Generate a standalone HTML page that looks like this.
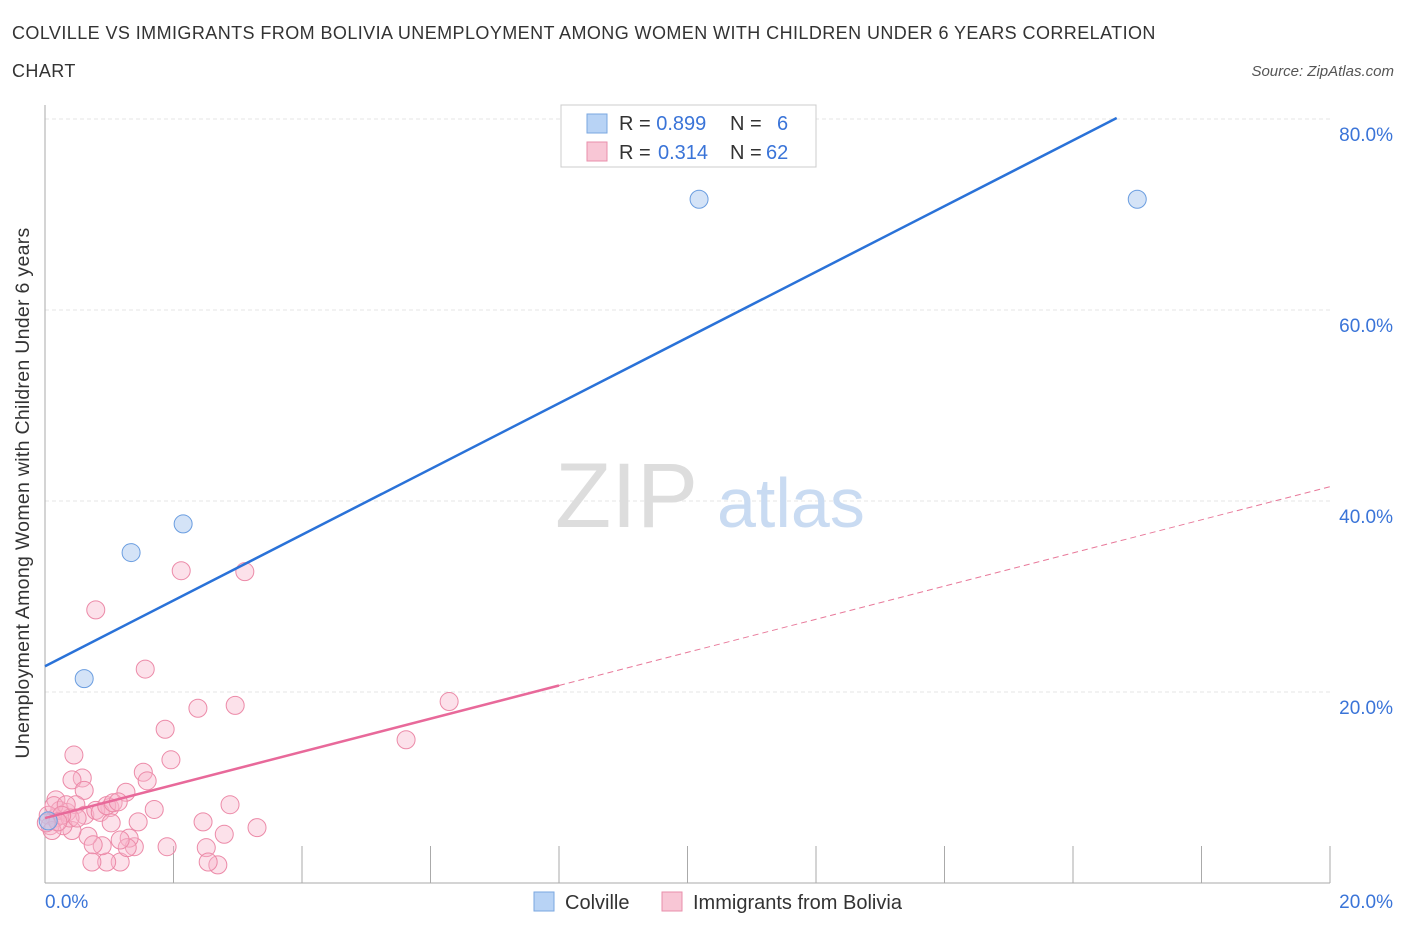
<!DOCTYPE html>
<html><head><meta charset="utf-8"><style>
body{margin:0;background:#fff;font-family:"Liberation Sans",sans-serif;}
svg text{font-family:"Liberation Sans",sans-serif;}
</style></head><body>
<svg id="c" width="1406" height="930">
<text x="12" y="39" font-size="18" fill="#333" letter-spacing="0.42">COLVILLE VS IMMIGRANTS FROM BOLIVIA UNEMPLOYMENT AMONG WOMEN WITH CHILDREN UNDER 6 YEARS CORRELATION</text>
<text x="12" y="77" font-size="18" fill="#333" letter-spacing="0.42">CHART</text>
<text x="1394" y="76" font-size="15" fill="#555" font-style="italic" text-anchor="end">Source: ZipAtlas.com</text>
<g id="grid"></g>
<text x="555" y="527" font-size="92" fill="#ddd" font-family="Liberation Serif">ZIP</text>
<text x="717" y="527" font-size="70" fill="#c9dbf2">atlas</text>
<g id="marks"></g>
<g>
<rect x="561" y="105" width="255" height="62" fill="#fff" stroke="#ccc"/>
<rect x="587" y="114" width="20" height="19" fill="#b8d3f5" stroke="#7aa7e0"/>
<rect x="587" y="142" width="20" height="19" fill="#f8c6d5" stroke="#e98fab"/>
<text x="619" y="130" font-size="20" fill="#333">R = <tspan fill="#3a74d8">0.899</tspan><tspan x="730">N = </tspan><tspan x="777" fill="#3a74d8">6</tspan></text>
<text x="619" y="159" font-size="20" fill="#333">R = <tspan x="658" fill="#3a74d8">0.314</tspan><tspan x="730">N = </tspan><tspan x="766" fill="#3a74d8">62</tspan></text>
</g>
<g>
<rect x="534" y="892" width="20" height="19" fill="#b8d3f5" stroke="#7aa7e0"/>
<text x="565" y="909" font-size="20" fill="#333">Colville</text>
<rect x="662" y="892" width="20" height="19" fill="#f8c6d5" stroke="#e98fab"/>
<text x="693" y="909" font-size="20" fill="#333">Immigrants from Bolivia</text>
</g>
<text x="29" y="493" font-size="19.5" fill="#333" letter-spacing="0.3" text-anchor="middle" transform="rotate(-90 29 493)">Unemployment Among Women with Children Under 6 years</text>
</svg>
<script>
const yTicks=[20,40,60,80];
const yTickLabels=["20.0%","40.0%","60.0%","80.0%"];
const colX=[0.05,0.61,1.34,2.15,10.18,17.0];
const colY=[6.5,21.4,34.6,37.6,71.6,71.6];
const bolX=[2.12,3.11,0.79,1.56,2.38,2.96,6.29,5.62,1.87,1.96,0.45,0.58,0.42,0.61,1.53,1.59,1.26,1.70,1.01,2.88,3.30,2.46,2.79,2.51,2.69,2.54,1.90,1.45,1.39,1.31,1.17,0.96,0.89,0.67,0.75,0.42,0.28,0.16,0.17,0.23,0.34,0.48,0.62,0.79,0.86,0.96,1.06,1.14,1.03,1.28,0.73,0.05,0.14,0.33,0.39,0.50,0.08,0.26,0.11,0.2,0.02,1.17];
const bolY=[32.7,32.6,28.6,22.4,18.3,18.6,19.0,15.0,16.1,12.9,13.4,11.0,10.8,9.7,11.6,10.7,9.5,7.7,7.9,8.2,5.8,6.4,5.1,3.7,1.9,2.2,3.8,6.4,3.8,4.7,2.2,2.2,3.9,4.9,4.0,5.5,6.0,6.8,8.7,7.6,7.4,8.2,7.1,7.6,7.4,8.1,8.4,8.5,6.3,3.7,2.2,7.1,8.1,8.2,6.8,6.8,6.0,7.1,5.5,6.4,6.3,4.5];
const colTrend=[22.7,80.1];
const colTrendX=[0,16.68];
const bolTrend=[6.8,41.5];
const bolSolidEnd=8;
const NS="http://www.w3.org/2000/svg";
const X=v=>45+v*64.25, Y=v=>883-v*9.55;
function mk(t,a,p){const e=document.createElementNS(NS,t);for(const k in a)e.setAttribute(k,a[k]);p.appendChild(e);return e;}
const g=document.getElementById('grid'), m=document.getElementById('marks');
yTicks.forEach((t,i)=>{
 const l=mk('line',{x1:45,x2:1330,y1:Y(t),y2:Y(t),stroke:'#e6e6e6','stroke-dasharray':'4,3'},g);
 
 
 const tx=mk('text',{x:1393,y:Y(t)+22,'font-size':19,fill:'#3a74d8','text-anchor':'end'},g);
 tx.textContent=yTickLabels[i];
 
 
});
const ya=mk('line',{x1:45,x2:45,y1:105,y2:883,stroke:'#aaa'},g);


const xa=mk('line',{x1:45,x2:1330,y1:883,y2:883,stroke:'#aaa'},g);


for(let v=2;v<=20;v+=2){const t=mk('line',{x1:X(v),x2:X(v),y1:846,y2:883,stroke:'#aaa'},g);
 
 }
[[0,"0.0%",'start',45],[20,"20.0%",'end',1393]].forEach(a=>{const t=mk('text',{x:a[3],y:908,'font-size':19,fill:'#3a74d8','text-anchor':a[2]},g);t.textContent=a[1];
 
 });
bolX.forEach((x,i)=>{const c=mk('circle',{cx:X(x),cy:Y(bolY[i]),r:9,fill:'rgba(248,180,202,0.4)',stroke:'#ec8aa8','stroke-width':1},m);
 
 });
colX.forEach((x,i)=>{const c=mk('circle',{cx:X(x),cy:Y(colY[i]),r:9,fill:'rgba(170,200,240,0.5)',stroke:'#6a9de0','stroke-width':1},m);
 
 });
const by=x=>bolTrend[0]+(bolTrend[1]-bolTrend[0])*x/20;
const l1=mk('line',{x1:X(0),y1:Y(by(0)),x2:X(bolSolidEnd),y2:Y(by(bolSolidEnd)),stroke:'#e8699a','stroke-width':2.5},m);


const l2=mk('line',{x1:X(bolSolidEnd),y1:Y(by(bolSolidEnd)),x2:X(20),y2:Y(by(20)),stroke:'#e8799a','stroke-width':1,'stroke-dasharray':'6,4'},m);


const l3=mk('line',{x1:X(colTrendX[0]),y1:Y(colTrend[0]),x2:X(colTrendX[1]),y2:Y(colTrend[1]),stroke:'#2a72d8','stroke-width':2.5},m);


</script>
</body></html>
